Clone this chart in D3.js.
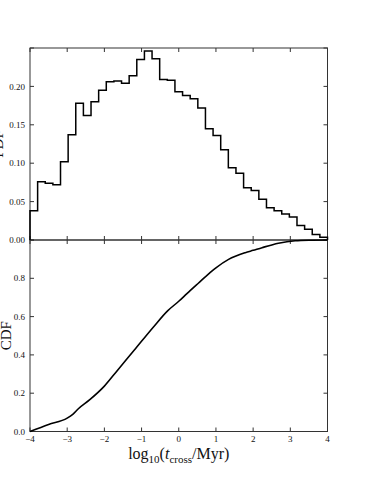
<!DOCTYPE html>
<html>
<head>
<meta charset="utf-8">
<script src="https://cdn.jsdelivr.net/npm/d3@7"></script>
<style>
  body { margin: 0; background: #fff; }
  text { font-family: "Liberation Serif", "DejaVu Serif", serif; fill: #111; }
</style>
</head>
<body>
<div id="chart"></div>
<script>
// data
const pdfValues = [0.038, 0.076, 0.074, 0.072, 0.102, 0.137, 0.178, 0.162, 0.180, 0.195,
    0.206, 0.207, 0.204, 0.214, 0.235, 0.246, 0.236, 0.209, 0.208, 0.193,
    0.188, 0.184, 0.172, 0.145, 0.136, 0.1175, 0.094, 0.087, 0.068, 0.0645,
    0.053, 0.042, 0.038, 0.034, 0.030, 0.019, 0.014, 0.007, 0.0037]
const cdfX = [-4.0, -3.5, -3.0, -2.85, -2.7, -2.4, -2.0, -1.65, -1.2, -0.68, -0.3, 0.0,
    0.22, 0.56, 0.89, 1.0, 1.34, 1.79, 2.0, 2.24, 2.68, 3.13, 3.5, 4.0]
const cdfY = [0.0, 0.037, 0.07, 0.09, 0.119, 0.165, 0.237, 0.319, 0.424, 0.546, 0.63, 0.68,
    0.72, 0.78, 0.838, 0.855, 0.899, 0.934, 0.946, 0.96, 0.983, 0.996, 0.999, 1.0]
const xTicks = [-4, -3, -2, -1, 0, 1, 2, 3, 4]
const pdfTicks = [0, 0.05, 0.10, 0.15, 0.20, 0.25]
const cdfTicks = [0, 0.2, 0.4, 0.6, 0.8, 1.0]

// sizes
const width = 366
const height = 480
const left = 30, right = 327.5
const top1 = 48, mid = 240, bottom2 = 431.5
const tickLen = 4

const svg = d3.select("#chart").append("svg").attr("width", width).attr("height", height)

// scales
const x = d3.scaleLinear().domain([-4, 4]).range([left, right])
const yPdf = d3.scaleLinear().domain([0, 0.25]).range([mid, top1])
const yCdf = d3.scaleLinear().domain([0, 1]).range([bottom2, mid])

const fmtMinus = s => s.replace("-", "\u2212")

function drawPanel(y, ticks, fmt, showX) {
    const g = svg.append("g")
    const [y0, y1] = y.range()
    // frame
    g.append("rect").attr("x", left).attr("y", y1).attr("width", right - left).attr("height", y0 - y1)
        .attr("fill", "none").attr("stroke", "#333").attr("stroke-width", 1)
    // y ticks inward, both sides
    ticks.forEach(t => {
        const yy = y(t)
        g.append("line").attr("x1", left).attr("x2", left + tickLen).attr("y1", yy).attr("y2", yy).attr("stroke", "#333")
        g.append("line").attr("x1", right).attr("x2", right - tickLen).attr("y1", yy).attr("y2", yy).attr("stroke", "#333")
        if (t < y.domain()[1] - 1e-9) {
            g.append("text").attr("x", left - 5).attr("y", yy).attr("dy", "0.35em")
                .attr("text-anchor", "end").style("font-size", "9px").text(fmt(t))
        }
    })
    // x ticks inward, top and bottom
    xTicks.forEach(t => {
        const xx = x(t)
        g.append("line").attr("x1", xx).attr("x2", xx).attr("y1", y0).attr("y2", y0 - tickLen).attr("stroke", "#333")
        g.append("line").attr("x1", xx).attr("x2", xx).attr("y1", y1).attr("y2", y1 + tickLen).attr("stroke", "#333")
        if (showX) {
            g.append("text").attr("x", xx).attr("y", y0 + 10).attr("text-anchor", "middle")
                .style("font-size", "9px").text(fmtMinus(d3.format("d")(t)))
        }
    })
    return g
}

drawPanel(yPdf, pdfTicks, d3.format(".2f"), false)
drawPanel(yCdf, cdfTicks, d3.format(".1f"), true)

// histogram as step line
const binEdges = d3.range(pdfValues.length + 1).map(i => -4 + i * 8 / pdfValues.length)
const stepPts = [[binEdges[0], 0]]
pdfValues.forEach((v, i) => {
    stepPts.push([binEdges[i], v])
    stepPts.push([binEdges[i + 1], v])
})
stepPts.push([binEdges[binEdges.length - 1], 0])

svg.append("path")
    .attr("d", d3.line().x(d => x(d[0])).y(d => yPdf(d[1]))(stepPts))
    .attr("fill", "none").attr("stroke", "#000").attr("stroke-width", 1.5)

// cdf line
const cdfData = cdfX.map((v, i) => ({ x: v, y: cdfY[i] }))
svg.append("path")
    .attr("d", d3.line().x(d => x(d.x)).y(d => yCdf(d.y)).curve(d3.curveMonotoneX)(cdfData))
    .attr("fill", "none").attr("stroke", "#000").attr("stroke-width", 1.6)

// axis labels
const xl = svg.append("text").attr("x", (left + right) / 2).attr("y", 459)
    .attr("text-anchor", "middle").style("font-size", "16px")
xl.append("tspan").text("log")
xl.append("tspan").attr("dy", 4).style("font-size", "11px").text("10")
xl.append("tspan").attr("dy", -4).text("(")
xl.append("tspan").style("font-style", "italic").text("t")
xl.append("tspan").attr("dy", 4).style("font-size", "11px").text("cross")
xl.append("tspan").attr("dy", -4).text("/Myr)")

svg.append("text").attr("transform", `translate(3, ${(top1 + mid) / 2}) rotate(-90)`)
    .attr("text-anchor", "middle").style("font-size", "15px").text("PDF")
svg.append("text").attr("transform", `translate(11, ${(mid + bottom2) / 2}) rotate(-90)`)
    .attr("text-anchor", "middle").style("font-size", "15px").text("CDF")
</script>
</body>
</html>
